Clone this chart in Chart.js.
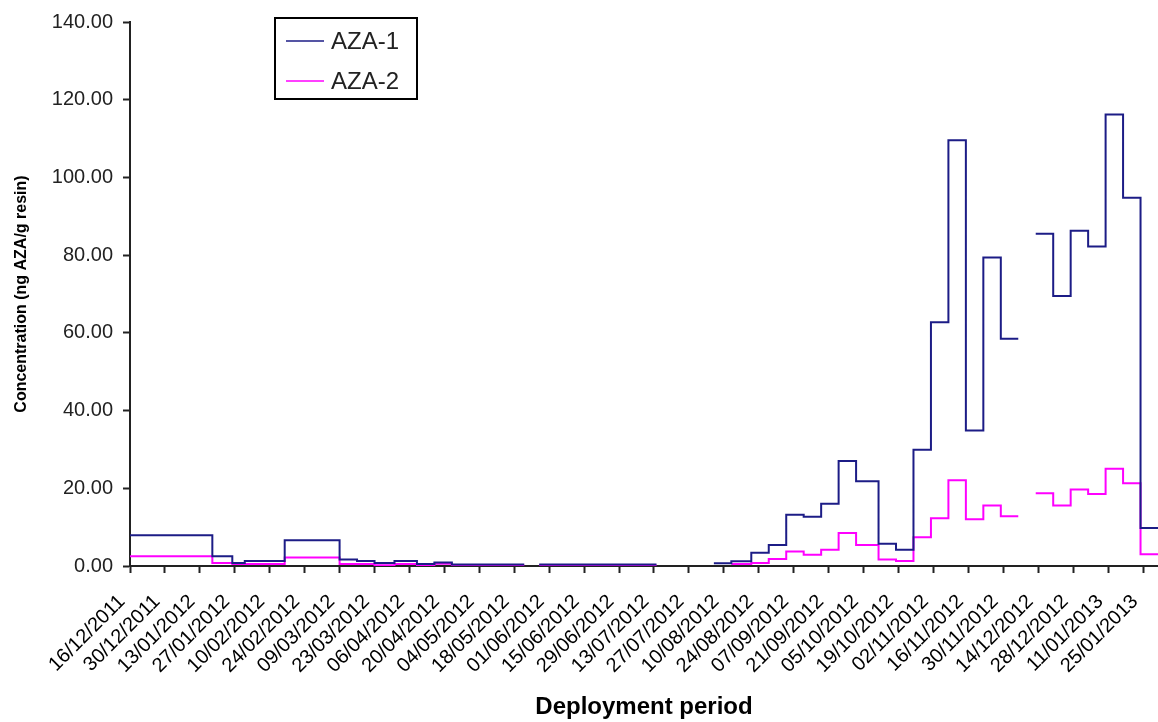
<!DOCTYPE html>
<html>
<head>
<meta charset="utf-8">
<title>AZA concentration by deployment period</title>
<script src="https://cdn.jsdelivr.net/npm/chart.js@4.4.1/dist/chart.umd.min.js"></script>
<style>
  html, body { margin: 0; padding: 0; background: #fff; overflow: hidden; }
  #wrap { width: 1158px; height: 722px; position: relative; }
</style>
</head>
<body>
<div id="wrap"><canvas id="chart" width="1158" height="722"></canvas></div>
<script>
// Sampling windows, in days counted from 16/12/2011
const periodStart = [0, 33, 41, 46, 62, 84, 91, 98, 106, 115, 122, 129, 164,
  234, 241, 249, 256, 263, 270, 277, 284, 291, 300, 307, 314, 321, 328, 335, 342, 349,
  363, 370, 377, 384, 391, 398, 405];
const periodEnd = [33, 41, 46, 62, 84, 91, 98, 106, 115, 122, 129, 158, 211,
  241, 249, 256, 263, 270, 277, 284, 291, 300, 307, 314, 321, 328, 335, 342, 349, 356,
  370, 377, 384, 391, 398, 405, 412];

// Concentration (ng AZA/g resin) per window
const aza1 = [7.9, 2.5, 0.8, 1.3, 6.6, 1.7, 1.3, 0.8, 1.3, 0.5, 0.9, 0.4, 0.4,
  0.7, 1.2, 3.4, 5.4, 13.2, 12.7, 16.0, 27.0, 21.8, 5.7, 4.2, 29.9, 62.7, 109.6, 34.9, 79.4, 58.5,
  85.5, 69.5, 86.3, 82.2, 116.2, 94.8, 9.8];
const aza2 = [2.5, 0.8, 0.5, 0.5, 2.2, 0.5, 0.5, 0.2, 0.5, 0.2, 0.6, 0.2, 0.2,
  null, 0.5, 0.8, 1.8, 3.7, 2.9, 4.2, 8.5, 5.4, 1.7, 1.3, 7.4, 12.3, 22.1, 12.0, 15.6, 12.8,
  18.7, 15.6, 19.7, 18.5, 25.0, 21.3, 3.0];

// Axis ticks: fortnightly dates
const tickDays = [0, 14, 28, 42, 56, 70, 84, 98, 112, 126, 140, 154, 168, 182, 196,
  210, 224, 238, 252, 266, 280, 294, 308, 322, 336, 350, 364, 378, 392, 406];
const tickLabels = ['16/12/2011', '30/12/2011', '13/01/2012', '27/01/2012', '10/02/2012',
  '24/02/2012', '09/03/2012', '23/03/2012', '06/04/2012', '20/04/2012', '04/05/2012',
  '18/05/2012', '01/06/2012', '15/06/2012', '29/06/2012', '13/07/2012', '27/07/2012',
  '10/08/2012', '24/08/2012', '07/09/2012', '21/09/2012', '05/10/2012', '19/10/2012',
  '02/11/2012', '16/11/2012', '30/11/2012', '14/12/2012', '28/12/2012', '11/01/2013',
  '25/01/2013'];

const FONT = '"Liberation Sans", Arial, Helvetica, sans-serif';

// Turn each window into a flat step; breaks where windows are missing
function stepPoints(values) {
  const pts = [];
  for (let i = 0; i < values.length; i++) {
    if (i > 0 && periodStart[i] !== periodEnd[i - 1]) {
      pts.push({ x: (periodStart[i] + periodEnd[i - 1]) / 2, y: null });
    }
    const v = values[i];
    pts.push({ x: periodStart[i], y: v });
    pts.push({ x: periodEnd[i], y: v });
  }
  return pts;
}

// Framed legend sitting inside the plot
const framedLegend = {
  id: 'framedLegend',
  afterDraw(chart) {
    const ctx = chart.ctx;
    const left = chart.chartArea.left + 145;
    const top = 18;
    ctx.save();
    ctx.strokeStyle = '#000';
    ctx.lineWidth = 2;
    ctx.strokeRect(left, top, 142, 81);
    chart.data.datasets.forEach((ds, i) => {
      const y = top + 23 + i * 40;
      ctx.strokeStyle = ds.borderColor;
      ctx.lineWidth = 1.5;
      ctx.beginPath();
      ctx.moveTo(left + 11, y);
      ctx.lineTo(left + 49, y);
      ctx.stroke();
      ctx.fillStyle = '#222';
      ctx.font = '24px ' + FONT;
      ctx.textBaseline = 'middle';
      ctx.textAlign = 'left';
      ctx.fillText(ds.label, left + 56, y + 1);
    });
    ctx.restore();
  }
};

new Chart(document.getElementById('chart'), {
  type: 'line',
  data: {
    datasets: [
      {
        label: 'AZA-1',
        data: stepPoints(aza1),
        borderColor: '#1c1c86',
        borderWidth: 2,
        pointRadius: 0,
        tension: 0,
        fill: false,
        spanGaps: false
      },
      {
        label: 'AZA-2',
        data: stepPoints(aza2),
        borderColor: '#ff00ff',
        borderWidth: 2,
        pointRadius: 0,
        tension: 0,
        fill: false,
        spanGaps: false
      }
    ]
  },
  options: {
    responsive: false,
    animation: false,
    layout: { padding: { top: 22, left: 0, right: 0, bottom: 0 } },
    plugins: {
      legend: { display: false },
      tooltip: { enabled: false }
    },
    scales: {
      x: {
        type: 'linear',
        min: 0,
        max: 412,
        afterBuildTicks: (scale) => {
          scale.ticks = tickDays.map((d) => ({ value: d }));
        },
        afterFit: (scale) => {
          scale.height = 156;
          scale.paddingLeft = 0;
          scale.paddingRight = 0;
        },
        ticks: {
          autoSkip: false,
          minRotation: 45,
          maxRotation: 45,
          padding: 17,
          labelOffset: -8,
          color: '#000',
          font: { family: FONT, size: 20 },
          callback: (value, index) => tickLabels[index]
        },
        grid: {
          drawOnChartArea: false,
          drawTicks: true,
          tickLength: 7,
          tickColor: '#222',
          tickWidth: 2
        },
        border: { display: true, color: '#222', width: 2 },
        title: {
          display: true,
          text: 'Deployment period',
          color: '#000',
          font: { family: FONT, size: 24, weight: 'bold' },
          padding: { top: 0, bottom: 0 }
        }
      },
      y: {
        min: 0,
        max: 140,
        afterFit: (scale) => {
          scale.width = 130;
          scale.paddingTop = 0;
          scale.paddingBottom = 0;
        },
        ticks: {
          stepSize: 20,
          padding: 10,
          color: '#222',
          font: { family: FONT, size: 20 },
          callback: (value) => value.toFixed(2)
        },
        grid: {
          drawOnChartArea: false,
          drawTicks: true,
          tickLength: 7,
          tickColor: '#222',
          tickWidth: 2
        },
        border: { display: true, color: '#222', width: 2 },
        title: {
          display: true,
          text: 'Concentration (ng AZA/g resin)',
          color: '#000',
          font: { family: FONT, size: 16, weight: 'bold' },
          padding: { top: 12, bottom: 0 }
        }
      }
    }
  },
  plugins: [framedLegend]
});
</script>
</body>
</html>
